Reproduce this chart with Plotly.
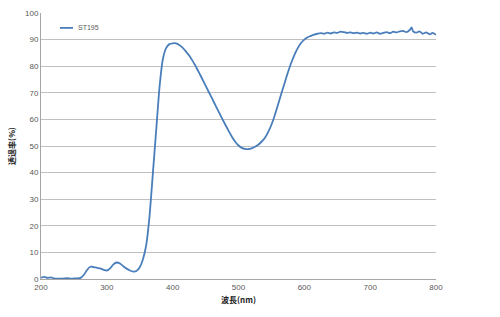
import plotly.graph_objects as go

wavelength = [200, 205, 210, 215, 220, 225, 230, 235, 240, 245, 250, 255, 260, 265, 270, 275, 280, 285, 290, 295,
              300, 305, 310, 315, 320, 325, 330, 335, 340, 345, 350, 355, 360, 365, 370, 375, 380, 385, 390, 395,
              400, 405, 410, 415, 420, 425, 430, 435, 440, 445, 450, 455, 460, 465, 470, 475, 480, 485, 490, 495,
              500, 505, 510, 515, 520, 525, 530, 535, 540, 545, 550, 555, 560, 565, 570, 575, 580, 585, 590, 595,
              600, 605, 610, 615, 620, 625, 630, 635, 640, 645, 650, 655, 660, 665, 670, 675, 680, 685, 690, 695,
              700, 705, 710, 715, 720, 725, 730, 735, 740, 745, 750, 755, 760, 763, 765, 770, 775, 780, 785, 790,
              795, 800]
transmittance = [0.5, 0.8, 0.4, 0.6, 0.2, 0.1, 0.1, 0.2, 0.3, 0.1, 0.2, 0.2, 0.4, 1.5, 3.4, 4.6, 4.5, 4.2, 4.0, 3.5,
                 3.2, 4.0, 5.5, 6.2, 5.8, 4.8, 3.9, 3.2, 2.8, 3.0, 4.4, 7.5, 13.0, 24.0, 40.0, 56.0, 72.0, 82.5, 86.8, 88.3,
                 88.6, 88.6, 88.0, 87.0, 85.6, 84.0, 82.1, 80.0, 77.6, 75.2, 72.7, 70.2, 67.8, 65.3, 62.8, 60.4, 58.0, 55.7, 53.5, 51.6,
                 50.2, 49.3, 48.9, 48.8, 49.1, 49.7, 50.5, 51.6, 53.0, 55.2, 58.0, 61.5, 65.5, 69.6, 73.6, 77.6, 81.2, 84.3, 86.8, 88.7,
                 90.0, 90.9, 91.4, 91.9, 92.2, 92.4, 92.2, 92.6, 92.3, 92.7, 92.5, 93.0, 92.8, 92.5, 92.7, 92.4, 92.6, 92.3, 92.5, 92.2,
                 92.6, 92.3, 92.7, 92.2, 92.5, 92.8, 92.4, 93.0, 92.7, 93.1, 93.3, 92.8, 93.6, 94.6, 93.2, 92.6, 93.1, 92.2, 92.7, 92.0,
                 92.5, 91.8]
series_name = "ST195"
x_ticks = [200, 300, 400, 500, 600, 700, 800]
y_ticks = [0, 10, 20, 30, 40, 50, 60, 70, 80, 90, 100]

line_color = "#4A7EBB"
tick_font = dict(family="Liberation Sans, Arial, sans-serif", size=8, color="#595959")

fig = go.Figure()
fig.add_trace(go.Scatter(x=wavelength, y=transmittance, mode="lines", name=series_name,
                         line=dict(color=line_color, width=1.8, shape="spline", smoothing=0.6),
                         showlegend=False))

fig.update_layout(
    width=500, height=317,
    margin=dict(l=41, r=64, t=9, b=38),
    paper_bgcolor="white", plot_bgcolor="white",
    xaxis=dict(range=[200, 800], tickvals=x_ticks, showgrid=False, zeroline=False,
               showline=True, linecolor="#A6A6A6", linewidth=1, ticks="",
               tickfont=tick_font, ticklen=0,
               title=dict(text="<b>波長(nm)</b>", font=dict(family="Noto Sans CJK JP", size=8, color="#222222"),
                          standoff=6)),
    yaxis=dict(range=[0, 100], tickvals=y_ticks, showgrid=True, gridcolor="#C0C0C0", gridwidth=1,
               zeroline=False, showline=True, linecolor="#A6A6A6", linewidth=1, ticks="",
               tickfont=tick_font,
               title=dict(text="<b>透過率(%)</b>", font=dict(family="Noto Sans CJK JP", size=8, color="#222222"),
                          standoff=8)),
)

# legend key drawn inside the plot, top-left
fig.add_shape(type="line", xref="paper", yref="paper", x0=0.048, x1=0.081, y0=0.944, y1=0.944,
              line=dict(color=line_color, width=1.8))
fig.add_annotation(xref="paper", yref="paper", x=0.088, y=0.944, text=series_name, showarrow=False,
                   xanchor="left", yanchor="middle", font=dict(family="Liberation Sans, Arial", size=7, color="#595959"))

fig.write_html("out.html")
